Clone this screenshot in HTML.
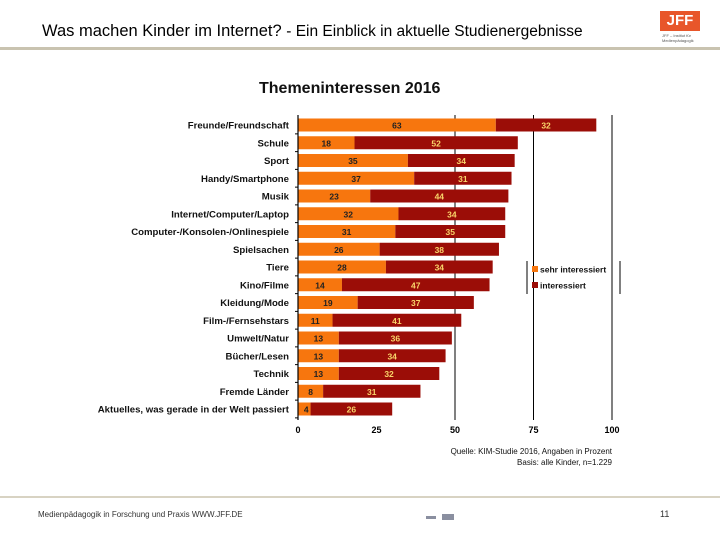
<!DOCTYPE html>
<html><head><meta charset="utf-8"><style>
body{margin:0;width:720px;height:540px;background:#fff;font-family:"Liberation Sans",sans-serif;overflow:hidden;position:relative}
.a{position:absolute}
</style></head><body>
<div class="a" style="left:42px;top:22px;font-size:16.5px;color:#000;white-space:nowrap">Was machen Kinder im Internet? <span style="font-size:15.5px">- Ein Einblick in aktuelle Studienergebnisse</span></div>
<div class="a" style="left:0;top:47px;width:720px;height:3px;background:#c9c3b0"></div>
<div class="a" style="left:660px;top:11px;width:40px;height:20px;background:#e8562a;color:#fff;font-weight:bold;font-size:15px;line-height:20px;text-align:center">JFF</div>
<div class="a" style="left:662px;top:33px;font-size:4px;color:#555;line-height:5px">JFF – Institut für<br>Medienpädagogik</div>
<div class="a" style="left:259px;top:80px;font-size:16px;font-weight:bold;color:#111">Themeninteressen 2016</div>
<svg class="a" style="left:0;top:0" width="720" height="540" id="chart"></svg>
<div class="a" style="left:440px;top:446px;font-size:8px;color:#111;text-align:right;width:172px;line-height:11px">Quelle: KIM-Studie 2016, Angaben in Prozent<br>Basis: alle Kinder, n=1.229</div>
<div class="a" style="left:0;top:496px;width:720px;height:2px;background:#d8d3c3"></div>
<div class="a" style="left:38px;top:510px;font-size:8px;color:#333">Medienpädagogik in Forschung und Praxis WWW.JFF.DE</div>
<div class="a" style="left:426px;top:516px;width:10px;height:3px;background:#8a8fa0"></div>
<div class="a" style="left:442px;top:514px;width:12px;height:6px;background:#8a8fa0"></div>
<div class="a" style="left:660px;top:509px;font-size:9px;color:#333">11</div>
<script>
const categories=["Freunde/Freundschaft","Schule","Sport","Handy/Smartphone","Musik","Internet/Computer/Laptop","Computer-/Konsolen-/Onlinespiele","Spielsachen","Tiere","Kino/Filme","Kleidung/Mode","Film-/Fernsehstars","Umwelt/Natur","Bücher/Lesen","Technik","Fremde Länder","Aktuelles, was gerade in der Welt passiert"];
const sehr=[63,18,35,37,23,32,31,26,28,14,19,11,13,13,13,8,4];
const interessiert=[32,52,34,31,44,34,35,38,34,47,37,41,36,34,32,31,26];
const ticks=[0,25,50,75,100];
const NS="http://www.w3.org/2000/svg",svg=document.getElementById('chart');
const x0=298,x1=612,y0=125,step=17.75,bh=13;
const X=v=>x0+(x1-x0)*v/100, Y=i=>y0+i*step;
function mk(t,a,txt){const e=document.createElementNS(NS,t);for(const k in a)e.setAttribute(k,a[k]);if(txt!=null)e.textContent=txt;svg.appendChild(e);return e;}
ticks.forEach(t=>{
 if(t>=50){const g=mk('line',{x1:X(t),x2:X(t),y1:115,y2:420,stroke:'#000','stroke-width':1});
 
 }
 const l=mk('text',{x:X(t),y:433,'font-size':9,'font-weight':'bold','text-anchor':'middle','font-family':'Liberation Sans'},t);
 
 
});
categories.forEach((c,i)=>{
 const y=Y(i);
 const l=mk('text',{x:289,y:y+3.5,'font-size':9.6,'font-weight':'bold','text-anchor':'end','font-family':'Liberation Sans',fill:'#111'},c);
 
 
 const r1=mk('rect',{x:X(0),y:y-bh/2,width:X(sehr[i])-X(0),height:bh,fill:'#f7760e'});
 
 
 const r2=mk('rect',{x:X(sehr[i]),y:y-bh/2,width:X(sehr[i]+interessiert[i])-X(sehr[i]),height:bh,fill:'#9b0d07'});
 
 
 const t1=mk('text',{x:(X(0)+X(sehr[i]))/2+ (sehr[i]<6?2:0),y:y+3.5,'font-size':8.5,'font-weight':'bold','text-anchor':'middle','font-family':'Liberation Sans',fill:'#222'},sehr[i]);
 
 
 const t2=mk('text',{x:(X(sehr[i])+X(sehr[i]+interessiert[i]))/2,y:y+3.5,'font-size':8.5,'font-weight':'bold','text-anchor':'middle','font-family':'Liberation Sans',fill:'#f9d56a'},interessiert[i]);
 
 
 const tk=mk('line',{x1:x0-3,x2:x0,y1:y+step/2,y2:y+step/2,stroke:'#000'});
 
 
});
const ax=mk('line',{x1:x0,x2:x0,y1:115,y2:420,stroke:'#000','stroke-width':1.2});


const lg=[["sehr interessiert",'#f7760e',270],["interessiert",'#9b0d07',286]];
[527,620].forEach(x=>{const b=mk('line',{x1:x,x2:x,y1:261,y2:294,stroke:'#000'});
 
 });
lg.forEach(l=>{
 const s=mk('rect',{x:532,y:l[2]-4,width:6,height:6,fill:l[1]});
 
 
 const t=mk('text',{x:540,y:l[2]+2.5,'font-size':8.5,'font-weight':'bold','font-family':'Liberation Sans',fill:'#111'},l[0]);
 
 
});
</script>
</body></html>
